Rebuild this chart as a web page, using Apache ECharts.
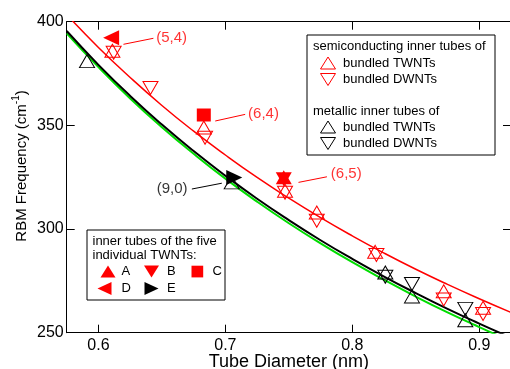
<!DOCTYPE html>
<html><head><meta charset="utf-8">
<script src="https://cdn.jsdelivr.net/npm/echarts@6/dist/echarts.min.js"></script>
<style>html,body{margin:0;padding:0;background:#fff}#c{width:510px;height:369px}</style>
</head><body><div id="c"></div>
<script>
// ---- data ----
const xTicks = [0.6, 0.7, 0.8, 0.9];
const yTicks = [250, 300, 350, 400];
const curveD   = [0.575,0.6,0.625,0.65,0.675,0.7,0.725,0.75,0.775,0.8,0.825,0.85,0.875,0.9,0.925];
const redFit   = [403.4,387.6,373.1,359.6,347.2,335.7,324.9,314.9,305.5,296.7,288.4,280.6,273.3,266.4,259.8];
const blackFit = [395.5,379.2,364.2,350.4,337.6,325.7,314.6,304.3,294.6,285.6,277.1,269.1,261.5,254.4,247.6];
const greenFit = [394.4,378.1,363.0,349.1,336.3,324.3,313.2,302.8,293.1,284.0,275.5,267.4,259.8,252.7,245.9];
const semiTWNT = [[0.611,386],[0.683,349],[0.747,318.5],[0.772,308],[0.818,289],[0.872,270],[0.903,262]];
const semiDWNT = [[0.612,385],[0.641,368],[0.684,344],[0.747,317.5],[0.772,304],[0.819,287.5],[0.872,266],[0.903,259]];
const metTWNT  = [[0.591,381],[0.705,322.5],[0.826,279],[0.847,267.5],[0.889,256]];
const metDWNT  = [[0.826,277],[0.847,273.5],[0.889,261.5]];
const tubeA = [[0.746,325]];
const tubeB = [[0.746,324]];
const tubeC = [[0.683,355]];
const tubeD = [[0.610,392.3]];
const tubeE = [[0.707,324.8]];
const annLabels = [
  {name:'(5,4)', value:[0.6577,392.4], color:'#ff0000'},
  {name:'(6,4)', value:[0.730,355.5], color:'#ff0000'},
  {name:'(6,5)', value:[0.7952,326.5], color:'#ff0000'},
  {name:'(9,0)', value:[0.658,319.3], color:'#000000'}
];
const annLeaders = [
  {pts:[[0.6197,389.1],[0.6433,392.0]], color:'#ff0000'},
  {pts:[[0.692,352.1],[0.7156,355.3]], color:'#ff0000'},
  {pts:[[0.7576,322.5],[0.780,325.2]], color:'#ff0000'},
  {pts:[[0.6736,319.3],[0.6972,322.1]], color:'#000000'}
];

const FONT = "'Liberation Sans', Arial, sans-serif";
const RED = '#ff0000', GREEN = '#00dd00';

function pair(xs, ys){ return xs.map((x,i)=>[x, ys[i]]); }
function curve(data, color, w){
  return {type:'line', data:data, xAxisIndex:0, yAxisIndex:0, showSymbol:false, symbol:'none', smooth:true,
          lineStyle:{color:color, width:w}, silent:true, z:2};
}
function marks(data, symbol, rotate, size, color, filled){
  return {type:'scatter', data:data, symbol:symbol, symbolRotate:rotate, symbolSize:size, silent:true, z:filled?4:3,
          itemStyle: filled ? {color:color, borderWidth:0, opacity:1} : {color:'rgba(0,0,0,0)', borderColor:color, borderWidth:1, opacity:1}};
}

// legend helpers (pixel layout of the key boxes)
function tri(cx, cy, w, h, dir, fill, stroke){
  let p;
  if (dir==='up') p=[[cx,cy-h/2],[cx+w/2,cy+h/2],[cx-w/2,cy+h/2]];
  else if (dir==='down') p=[[cx,cy+h/2],[cx+w/2,cy-h/2],[cx-w/2,cy-h/2]];
  else if (dir==='left') p=[[cx-w/2,cy],[cx+w/2,cy-h/2],[cx+w/2,cy+h/2]];
  else p=[[cx+w/2,cy],[cx-w/2,cy-h/2],[cx-w/2,cy+h/2]];
  return {type:'polygon', shape:{points:p}, style:{fill:fill, stroke:stroke, lineWidth:1}, z:101};
}
function txt(x, y, s, size, color){
  return {type:'text', x:x, y:y, style:{text:s, font:size+'px '+FONT, fill:color||'#000', textVerticalAlign:'middle', verticalAlign:'middle'}, z:101};
}

const graphics = [
  {type:'rect', shape:{x:307,y:35,width:188,height:120}, style:{fill:'#fff', stroke:'#000', lineWidth:1}, z:100},
  txt(313,46,'semiconducting inner tubes of',13),
  tri(328,63,15,12,'up','none',RED), txt(343,63,'bundled TWNTs',13),
  tri(328,79.5,15,12,'down','none',RED), txt(343,79.5,'bundled DWNTs',13),
  txt(313,111.5,'metallic inner tubes of',13),
  tri(328,127,15,12,'up','none','#000'), txt(343,127,'bundled TWNTs',13),
  tri(328,143.5,15,12,'down','none','#000'), txt(343,143.5,'bundled DWNTs',13),

  {type:'rect', shape:{x:87,y:230,width:138,height:70}, style:{fill:'#fff', stroke:'#000', lineWidth:1}, z:100},
  txt(92.5,241,'inner tubes of the five',13),
  txt(92.5,255.5,'individual TWNTs:',13),
  tri(108,271.5,15,12,'up',RED,'none'), txt(121.5,271.5,'A',13),
  tri(151.5,271.5,15,12,'down',RED,'none'), txt(167,271.5,'B',13),
  {type:'rect', shape:{x:191.5,y:265.7,width:11.7,height:11.7}, style:{fill:RED}, z:101}, txt(212.5,271.5,'C',13),
  tri(104.5,288.5,14,13,'left',RED,'none'), txt(121.5,288.5,'D',13),
  tri(151.5,288.5,14,13,'right','#000','none'), txt(167,288.5,'E',13),

  {type:'text', x:20, y:166, rotation:Math.PI/2,
   style:{text:'{a|RBM Frequency (cm}{s|-1}{a|)}', align:'center', verticalAlign:'middle',
     rich:{a:{font:'15px '+FONT, fill:'#000', lineHeight:18, verticalAlign:'bottom'},
           s:{font:'10px '+FONT, fill:'#000', lineHeight:18, verticalAlign:'top'}}}, z:101}
];

const series = [
  curve(pair(curveD, greenFit), GREEN, 2),
  curve(pair(curveD, blackFit), '#000', 2),
  curve(pair(curveD, redFit), RED, 1.5),
  marks(semiTWNT, 'triangle', 0, [15,13], RED, false),
  marks(semiDWNT, 'triangle', 180, [15,13], RED, false),
  marks(metTWNT, 'triangle', 0, [15,13], '#000', false),
  marks(metDWNT, 'triangle', 180, [15,13], '#000', false),
  marks(tubeA, 'triangle', 0, [16,14], RED, true),
  marks(tubeB, 'triangle', 180, [16,14], RED, true),
  marks(tubeC, 'rect', 0, [14,13], RED, true),
  marks(tubeD, 'triangle', 90, [15,16], RED, true),
  marks(tubeE, 'triangle', -90, [15,16], '#000', true),
  {type:'scatter', data:annLabels.map(a=>({name:a.name, value:a.value, label:{color:a.color}})),
   symbolSize:1, itemStyle:{color:'rgba(0,0,0,0)'}, silent:true, z:5,
   label:{show:true, position:'inside', formatter:p=>p.name, fontFamily:FONT, fontSize:15}}
];
annLeaders.forEach(l=>series.push({type:'line', data:l.pts, symbol:'none', showSymbol:false, silent:true, z:5,
  lineStyle:{color:l.color, width:1}}));

const chart = echarts.init(document.getElementById('c'), null, {renderer:'canvas'});
chart.setOption({
  animation:false,
  backgroundColor:'#fff',
  grid:{left:66.7, right:-1, top:21.7, bottom:36.3, containLabel:false, outerBoundsMode:'none'},
  xAxis:[
    {type:'value', min:0.575, max:0.925, position:'bottom',
     axisLine:{show:true, onZero:false, lineStyle:{color:'#000', width:1}},
     axisTick:{show:true, inside:true, length:8, lineStyle:{color:'#000'}, customValues:xTicks},
     axisLabel:{show:true, customValues:xTicks, formatter:v=>v.toFixed(1), color:'#000', fontFamily:FONT, fontSize:16, margin:5},
     splitLine:{show:false},
     name:'Tube Diameter (nm)', nameLocation:'middle', nameGap:20, nameMoveOverlap:false,
     nameTextStyle:{color:'#000', fontFamily:FONT, fontSize:18, verticalAlign:'top'}},
    {type:'value', min:0.575, max:0.925, position:'top',
     axisLine:{show:true, onZero:false, lineStyle:{color:'#000', width:1}},
     axisTick:{show:true, inside:true, length:8, lineStyle:{color:'#000'}, customValues:xTicks},
     axisLabel:{show:false}, splitLine:{show:false}}
  ],
  yAxis:[
    {type:'value', min:250, max:400, interval:50, position:'left',
     axisLine:{show:true, onZero:false, lineStyle:{color:'#000', width:1}},
     axisTick:{show:true, inside:true, length:8, lineStyle:{color:'#000'}, customValues:yTicks},
     axisLabel:{show:true, customValues:yTicks, color:'#000', fontFamily:FONT, fontSize:16, margin:3},
     splitLine:{show:false}},
    {type:'value', min:250, max:400, interval:50, position:'right',
     axisLine:{show:true, onZero:false, lineStyle:{color:'#000', width:1}},
     axisTick:{show:true, inside:true, length:8, lineStyle:{color:'#000'}, customValues:yTicks},
     axisLabel:{show:false}, splitLine:{show:false}}
  ],
  series: series,
  graphic: graphics
});
</script>
</body></html>
